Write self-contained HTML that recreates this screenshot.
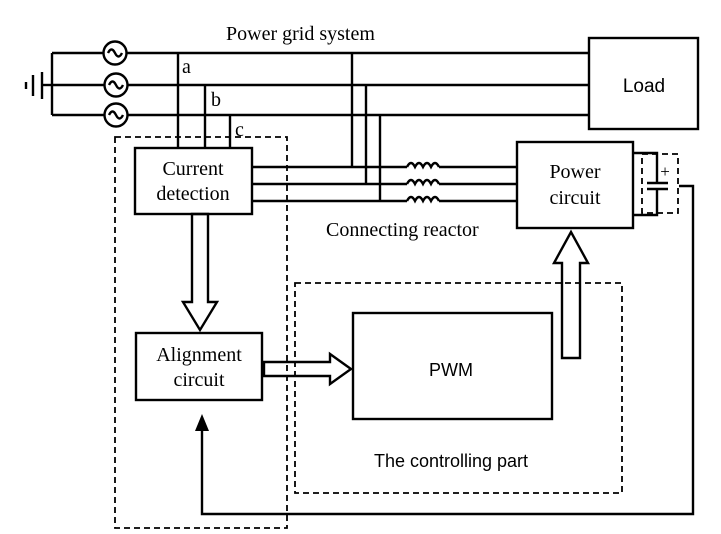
<!DOCTYPE html>
<html><head><style>body{margin:0;background:#fff}svg{display:block}text{font-family:"Liberation Serif",serif;fill:#000}.s{font-family:"Liberation Sans",sans-serif}</style></head><body>
<svg width="721" height="534" viewBox="0 0 721 534" xmlns="http://www.w3.org/2000/svg">
<g stroke="#000" stroke-width="2.4" fill="none">
<line x1="26" y1="82" x2="26" y2="89"/><line x1="33" y1="75" x2="33" y2="96"/><line x1="42" y1="72" x2="42" y2="99"/>
<line x1="42" y1="85" x2="52" y2="85"/>
<line x1="52" y1="53" x2="52" y2="115"/>
<line x1="52" y1="53" x2="104" y2="53"/><line x1="52" y1="85" x2="104" y2="85"/><line x1="52" y1="115" x2="104" y2="115"/>
<circle cx="115" cy="53" r="11.5"/><circle cx="116" cy="85" r="11.5"/><circle cx="116" cy="115" r="11.5"/>
<path d="M108 53 q3.5 -7 7 0 t7 0"/><path d="M109 85 q3.5 -7 7 0 t7 0"/><path d="M109 115 q3.5 -7 7 0 t7 0"/>
<line x1="127" y1="53" x2="589" y2="53"/><line x1="128" y1="85" x2="589" y2="85"/><line x1="128" y1="115" x2="589" y2="115"/>
<line x1="178" y1="53" x2="178" y2="148"/><line x1="205" y1="85" x2="205" y2="148"/><line x1="230" y1="115" x2="230" y2="148"/>
<rect x="135" y="148" width="117" height="66"/>
<line x1="252" y1="167" x2="407" y2="167"/><line x1="252" y1="184" x2="407" y2="184"/><line x1="252" y1="201" x2="407" y2="201"/>
<line x1="352" y1="53" x2="352" y2="167"/><line x1="366" y1="85" x2="366" y2="184"/><line x1="380" y1="115" x2="380" y2="201"/>
<path d="M407 167 q4 -8 8 0 q4 -8 8 0 q4 -8 8 0 q4 -8 8 0"/>
<path d="M407 184 q4 -8 8 0 q4 -8 8 0 q4 -8 8 0 q4 -8 8 0"/>
<path d="M407 201 q4 -8 8 0 q4 -8 8 0 q4 -8 8 0 q4 -8 8 0"/>
<line x1="439" y1="167" x2="517" y2="167"/><line x1="439" y1="184" x2="517" y2="184"/><line x1="439" y1="201" x2="517" y2="201"/>
<rect x="517" y="142" width="116" height="86"/>
<rect x="589" y="38" width="109" height="91"/>
<polyline points="633,153 657,153 657,183"/><polyline points="633,215 657,215 657,189"/>
<line x1="647" y1="183" x2="668" y2="183"/><line x1="647" y1="189" x2="668" y2="189"/>
<polyline points="679,186 693,186 693,514 202,514 202,430"/>
<rect x="136" y="333" width="126" height="67"/>
<rect x="353" y="313" width="199" height="106"/>
<polygon points="192,214 208,214 208,302 217,302 200,330 183,302 192,302"/>
<polygon points="264,362 330,362 330,354 351,369 330,384 330,376 264,376"/>
<polygon points="562,358 580,358 580,263 588,263 571,232 554,263 562,263"/>
</g>
<polygon points="202,414 195,431 209,431" fill="#000"/>
<g stroke="#000" stroke-width="1.8" fill="none" stroke-dasharray="6,4">
<rect x="115" y="137" width="172" height="391"/>
<rect x="295" y="283" width="327" height="210"/>
<rect x="642" y="154" width="36" height="59"/>
</g>
<g font-size="20">
<text x="226" y="40">Power grid system</text>
<text x="182" y="73">a</text><text x="211" y="106">b</text><text x="235" y="136">c</text>
<text x="193" y="175" text-anchor="middle">Current</text><text x="193" y="200" text-anchor="middle">detection</text>
<text class="s" x="644" y="92" text-anchor="middle" font-size="19">Load</text>
<text x="575" y="178" text-anchor="middle">Power</text><text x="575" y="204" text-anchor="middle">circuit</text>
<text x="326" y="236">Connecting reactor</text>
<text x="199" y="361" text-anchor="middle">Alignment</text><text x="199" y="386" text-anchor="middle">circuit</text>
<text class="s" x="451" y="376" text-anchor="middle" font-size="18">PWM</text>
<text class="s" x="451" y="467" text-anchor="middle" font-size="18">The controlling part</text>
<text x="665" y="177" text-anchor="middle" font-size="17">+</text>
</g>
</svg>
</body></html>
